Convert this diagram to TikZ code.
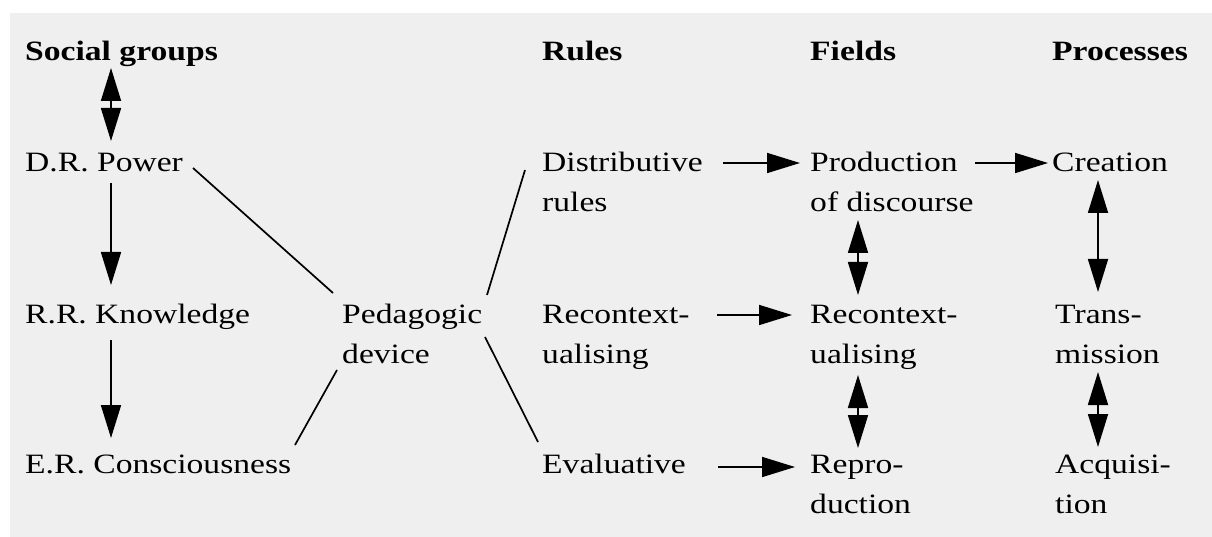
\documentclass[tikz,border=0pt]{standalone}
\usepackage{fontspec}
\setmainfont[FakeStretch=1.2]{Liberation Serif}
\usetikzlibrary{arrows.meta,calc}
\definecolor{paper}{RGB}{239,239,239}
\newcommand{\twolines}[2]{\vtop{\hbox{#1}\hbox{#2}}}
\begin{document}
\begin{tikzpicture}[x=1pt,y=-1pt,
  lbl/.style={anchor=base west,inner sep=0pt,font=\fontsize{28}{40}\selectfont},
  hdr/.style={lbl,font=\fontsize{28}{40}\selectfont\bfseries},
  conn/.style={line width=1.7pt,black},
  arr/.style={conn,-{Triangle[length=33pt,width=20pt]}},
  dbl/.style={conn,{Triangle[length=33pt,width=20pt]}-{Triangle[length=33pt,width=20pt]}}]
\useasboundingbox (0,0) rectangle (1212,537);
\fill[white] (0,0) rectangle (1212,537);
\fill[paper] (10,13) rectangle (1212,537);

\node[hdr] (sg) at (25,61) {Social groups};
\node[hdr] (rules) at (542,61) {Rules};
\node[hdr] (fields) at (810,61) {Fields};
\node[hdr] (proc) at (1052,61) {Processes};

\node[lbl] (drp) at (25,172) {D.R. Power};
\node[lbl] (rrk) at (25,323) {R.R. Knowledge};
\node[lbl] (erc) at (25,473) {E.R. Consciousness};
\node[lbl] (ped) at (342,323) {\twolines{Pedagogic}{device}};

\node[lbl] (dist) at (542,172) {\twolines{Distributive}{rules}};
\node[lbl] (rec) at (542,323) {\twolines{Recontext-}{ualising}};
\node[lbl] (eval) at (542,473) {Evaluative};

\node[lbl] (prod) at (810,172) {\twolines{Production}{of discourse}};
\node[lbl] (frec) at (810,323) {\twolines{Recontext-}{ualising}};
\node[lbl] (repro) at (810,473) {\twolines{Repro-}{duction}};

\node[lbl] (crea) at (1052,172) {Creation};
\node[lbl] (trans) at (1055,323) {\twolines{Trans-}{mission}};
\node[lbl] (acq) at (1055,473) {\twolines{Acquisi-}{tion}};

% social groups column
\draw[dbl] ($(sg.base west)+(86,7)$) -- ($(drp.base west)+(86,-31)$);
\draw[arr] ($(drp.base west)+(86,11)$) -- ($(rrk.base west)+(86,-38)$);
\draw[arr] ($(rrk.base west)+(86,17)$) -- ($(erc.base west)+(86,-35)$);

% pedagogic device links
\draw[conn] ($(drp.base west)+(168,-4)$) -- ($(ped.base west)+(-9,-30)$);
\draw[conn] ($(erc.base west)+(270,-28)$) -- ($(ped.base west)+(-5,47)$);
\draw[conn] ($(ped.base west)+(145,-28)$) -- ($(dist.base west)+(-17,-2)$);
\draw[conn] ($(ped.base west)+(143,14)$) -- ($(eval.base west)+(-4,-31)$);

% rules to fields
\draw[arr] ($(dist.base west)+(181,-9)$) -- ($(prod.base west)+(-10,-9)$);
\draw[arr] ($(rec.base west)+(175,-8)$) -- ($(frec.base west)+(-18,-8)$);
\draw[arr] ($(eval.base west)+(176,-6)$) -- ($(repro.base west)+(-15,-6)$);

% fields to processes
\draw[arr] ($(prod.base west)+(165,-9)$) -- ($(crea.base west)+(-4,-9)$);

% fields column
\draw[dbl] ($(prod.base west)+(48,48)$) -- ($(frec.base west)+(48,-28)$);
\draw[dbl] ($(frec.base west)+(48,52)$) -- ($(repro.base west)+(48,-25)$);

% processes column
\draw[dbl] ($(crea.base west)+(46,8)$) -- ($(trans.base west)+(43,-31)$);
\draw[dbl] ($(trans.base west)+(43,49)$) -- ($(acq.base west)+(43,-26)$);
\end{tikzpicture}
\end{document}
